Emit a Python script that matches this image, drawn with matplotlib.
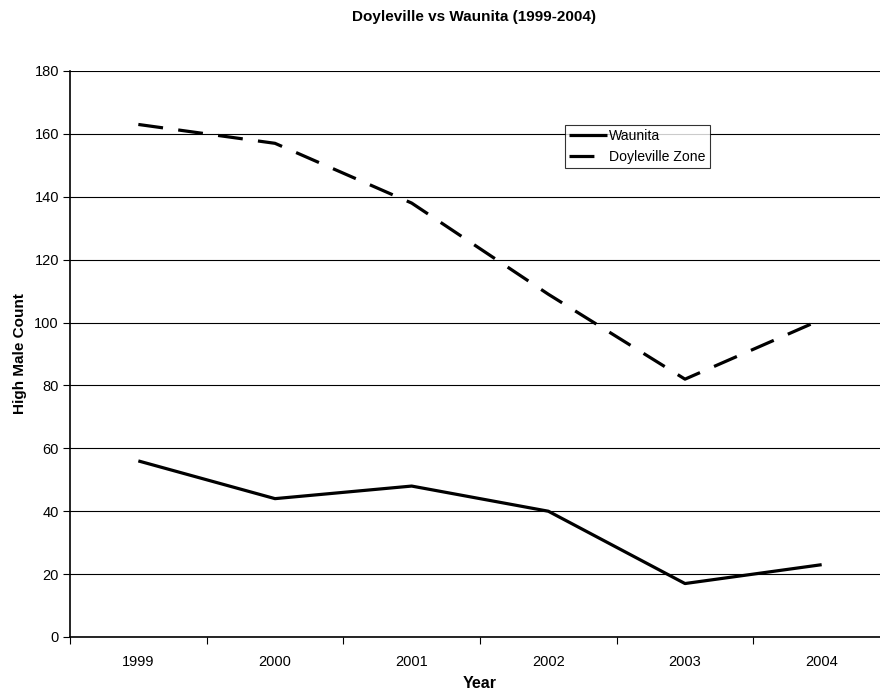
import numpy as np
import matplotlib
matplotlib.use("Agg")
import matplotlib.pyplot as plt

plt.rcParams['font.family'] = ['Liberation Sans', 'DejaVu Sans']

years = ['1999', '2000', '2001', '2002', '2003', '2004']
waunita = [56, 44, 48, 40, 17, 23]
doyleville = [163, 157, 138, 109, 82, 101]
yTicks = [0, 20, 40, 60, 80, 100, 120, 140, 160, 180]

fig = plt.figure(figsize=(8.8, 6.94), dpi=100)
# plot area runs off the right edge like the original export
ax = fig.add_axes([70/880, 57/694, 820/880, 566/694])

x = np.arange(len(years))
ax.plot(x, waunita, color='black', lw=2.3, label='Waunita', solid_capstyle='butt')
ax.plot(x, doyleville, color='black', lw=2.3, label='Doyleville Zone',
        linestyle=(0, (7.8, 4.8)), dash_capstyle='butt')

ax.set_xlim(-0.5, len(years) - 0.5)
ax.set_ylim(0, 180)
ax.set_yticks(yTicks)
ax.yaxis.grid(True, color='black', lw=0.8)
ax.set_axisbelow(True)

# category ticks sit between the years, labels in the middle
ax.set_xticks(np.arange(len(years) + 1) - 0.5)
ax.set_xticklabels([])
ax.set_xticks(x, minor=True)
ax.set_xticklabels(years, minor=True)
ax.tick_params(axis='x', which='minor', length=0, pad=13, labelsize=10.5)
ax.tick_params(axis='x', which='major', length=5, width=0.8, direction='out')
ax.tick_params(axis='y', length=5, width=0.8, direction='out', pad=3, labelsize=10.5)

for s in ['top', 'right']:
    ax.spines[s].set_visible(False)
ax.spines['left'].set_linewidth(1.2)
ax.spines['bottom'].set_linewidth(1.2)

ax.set_xlabel('Year', fontweight='bold', fontsize=11.5, labelpad=5)
ax.set_ylabel('High Male Count', fontweight='bold', fontsize=11, labelpad=5)

fig.text(474/880, 1 - 17/694, 'Doyleville vs Waunita (1999-2004)', ha='center', va='center',
         fontweight='bold', fontsize=11)

leg = ax.legend(loc='upper left', bbox_to_anchor=(565/880, 1 - 125/694), bbox_transform=fig.transFigure,
                fontsize=10.1, frameon=True, fancybox=False, handlelength=2.7, handletextpad=0.15,
                borderpad=0.3, borderaxespad=0, labelspacing=0.45)
leg.get_frame().set_edgecolor('black')
leg.get_frame().set_linewidth(0.8)

fig.savefig('out.png', dpi=100)
